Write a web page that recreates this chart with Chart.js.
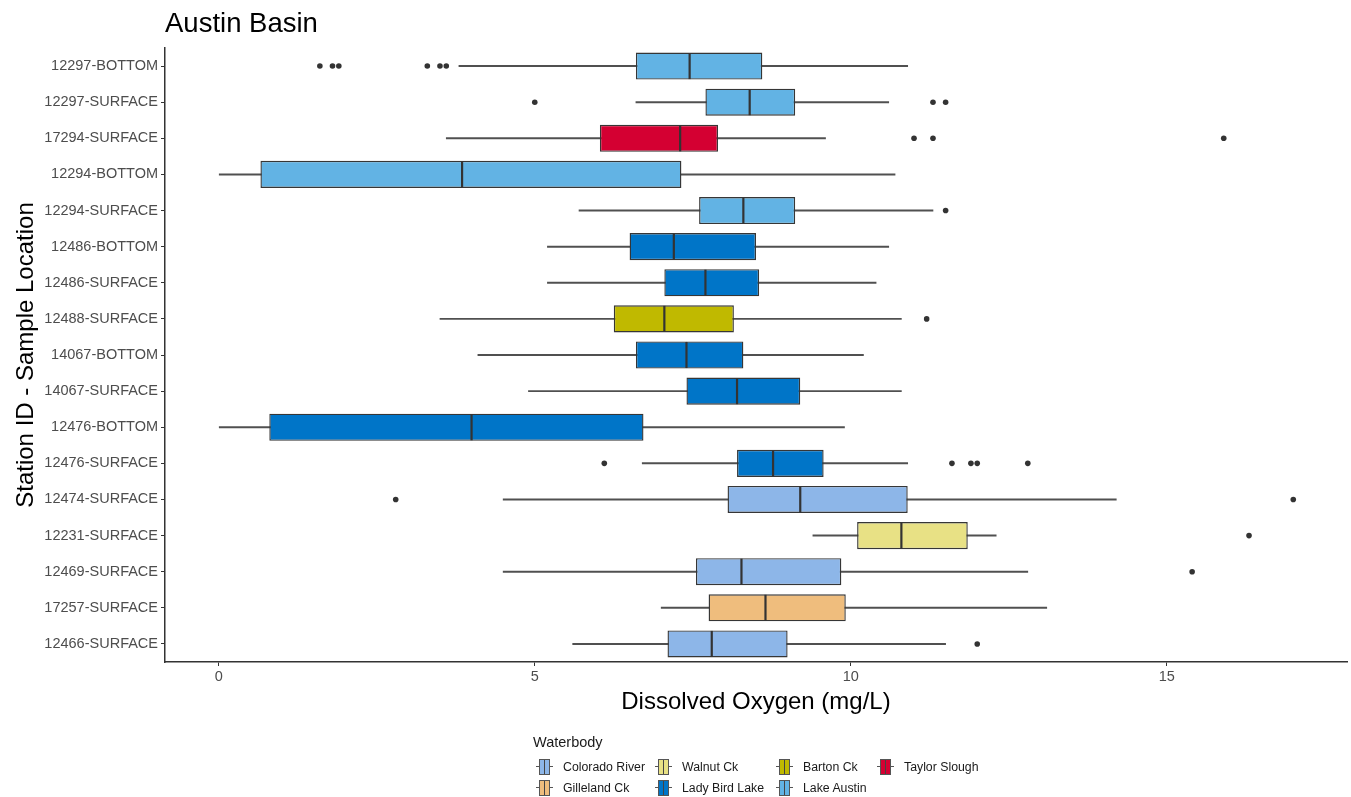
<!DOCTYPE html>
<html>
<head>
<meta charset="utf-8">
<script src="https://cdn.jsdelivr.net/npm/chart.js@4"></script>
<style>
  body { margin: 0; background: #fff; font-family: "Liberation Sans", Arial, sans-serif; }
  #wrap { position: relative; width: 1351px; height: 797px; }
  #legend { position: absolute; left: 533px; top: 733px; color: #1a1a1a; }
  #legend .ttl { font-size: 14.5px; line-height: 18px; margin-bottom: 5px; }
  #legend .grid { display: grid; grid-template-columns: 119px 121px 101px auto; grid-template-rows: 21px 21px; grid-auto-flow: column; }
  #legend .item { display: flex; align-items: center; font-size: 12.3px; }
  .key { position: relative; width: 17px; height: 16px; margin-left: 3px; margin-right: 10px; }
  .key .wh { position: absolute; left: 0; right: 0; top: 7.5px; height: 1px; background: #555; }
  .key .bx { position: absolute; left: 3px; top: 0; width: 9px; height: 14px; border: 1px solid #555; }
  .key .md { position: absolute; left: 4px; top: 0; width: 1px; height: 14px; background: #444; }
</style>
</head>
<body>
<div id="wrap">
  <canvas id="box-chart"></canvas>
  <div id="legend"></div>
</div>
<script>
let stations = ['12297-BOTTOM', '12297-SURFACE', '17294-SURFACE', '12294-BOTTOM', '12294-SURFACE',
  '12486-BOTTOM', '12486-SURFACE', '12488-SURFACE', '14067-BOTTOM', '14067-SURFACE', '12476-BOTTOM',
  '12476-SURFACE', '12474-SURFACE', '12231-SURFACE', '12469-SURFACE', '17257-SURFACE', '12466-SURFACE'];

let waterbody = ['Lake Austin', 'Lake Austin', 'Taylor Slough', 'Lake Austin', 'Lake Austin',
  'Lady Bird Lake', 'Lady Bird Lake', 'Barton Ck', 'Lady Bird Lake', 'Lady Bird Lake', 'Lady Bird Lake',
  'Lady Bird Lake', 'Colorado River', 'Walnut Ck', 'Colorado River', 'Gilleland Ck', 'Colorado River'];

let lowWhisker = [3.8, 6.6, 3.6, 0.0, 5.7, 5.2, 5.2, 3.5, 4.1, 4.9, 0.0, 6.7, 4.5, 9.4, 4.5, 7.0, 5.6];
let q1 = [6.6, 7.7, 6.03, 0.66, 7.6, 6.5, 7.05, 6.25, 6.6, 7.4, 0.8, 8.2, 8.05, 10.1, 7.55, 7.75, 7.1];
let median = [7.45, 8.4, 7.3, 3.85, 8.3, 7.2, 7.7, 7.05, 7.4, 8.2, 4.0, 8.77, 9.2, 10.8, 8.27, 8.65, 7.8];
let q3 = [8.6, 9.12, 7.9, 7.32, 9.12, 8.5, 8.55, 8.15, 8.3, 9.2, 6.72, 9.57, 10.9, 11.85, 9.85, 9.92, 9.0];
let highWhisker = [10.9, 10.6, 9.6, 10.7, 11.3, 10.6, 10.4, 10.8, 10.2, 10.8, 9.9, 10.9, 14.2, 12.3, 12.8, 13.1, 11.5];

let outliers = [
  [1.6, 1.8, 1.9, 3.3, 3.5, 3.6],
  [5.0, 11.3, 11.5],
  [11.0, 11.3, 15.9],
  [],
  [11.5],
  [], [], [11.2], [], [], [],
  [6.1, 11.6, 11.9, 12.0, 12.8],
  [2.8, 17.0],
  [16.3],
  [15.4],
  [],
  [12.0]
];

let xTicks = [0, 5, 10, 15];

let legendOrder = ['Colorado River', 'Gilleland Ck', 'Walnut Ck', 'Lady Bird Lake', 'Barton Ck', 'Lake Austin', 'Taylor Slough'];
let colors = {
  'Colorado River': '#8DB6E8',
  'Gilleland Ck': '#EFBD7D',
  'Walnut Ck': '#E8E185',
  'Lady Bird Lake': '#0075C8',
  'Barton Ck': '#C0B900',
  'Lake Austin': '#62B3E4',
  'Taylor Slough': '#D40032'
};

let font = '"Liberation Sans", Arial, sans-serif';

let outlierPoints = [];
outliers.forEach((vals, i) => {
  for (let v of vals) outlierPoints.push({x: v, y: stations[i]});
});

// median line on top of each box
const medianLines = {
  id: 'medianLines',
  afterDatasetsDraw(chart) {
    const meta = chart.getDatasetMeta(1);
    const xs = chart.scales.x;
    const ctx = chart.ctx;
    ctx.save();
    ctx.strokeStyle = '#333';
    ctx.lineWidth = 2.2;
    meta.data.forEach((bar, i) => {
      const p = bar.getProps(['y', 'height'], true);
      const px = xs.getPixelForValue(median[i]);
      ctx.beginPath();
      ctx.moveTo(px, p.y - p.height / 2 + 0.5);
      ctx.lineTo(px, p.y + p.height / 2 - 0.5);
      ctx.stroke();
    });
    ctx.restore();
  }
};

Chart.defaults.font.family = font;

new Chart(document.getElementById('box-chart'), {
  type: 'bar',
  data: {
    labels: stations,
    datasets: [{
        label: 'whisker',
        data: stations.map((s, i) => [lowWhisker[i], highWhisker[i]]),
        backgroundColor: '#505050',
        barThickness: 1.3,
        grouped: false,
        order: 3
      }, {
        label: 'box',
        data: stations.map((s, i) => [q1[i], q3[i]]),
        backgroundColor: waterbody.map(w => colors[w]),
        borderColor: '#363636',
        borderWidth: 1.4,
        borderSkipped: false,
        barPercentage: 0.75,
        categoryPercentage: 1,
        grouped: false,
        order: 2
      }, {
        type: 'scatter',
        label: 'outliers',
        data: outlierPoints,
        backgroundColor: '#333',
        borderWidth: 0,
        pointRadius: 2.8,
        showLine: false,
        order: 1
      }
    ]
  },
  plugins: [medianLines],
  options: {
    indexAxis: 'y',
    responsive: true,
    maintainAspectRatio: false,
    animation: false,
    events: [],
    layout: { padding: { left: 0, right: 4, top: 0, bottom: 80 } },
    plugins: {
      legend: { display: false },
      tooltip: { enabled: false },
      title: {
        display: true,
        text: 'Austin Basin',
        align: 'start',
        fullSize: false,
        color: '#000',
        font: { size: 27.5, weight: 'normal' },
        padding: { top: 8, bottom: 7 }
      }
    },
    scales: {
      x: {
        type: 'linear',
        position: 'bottom',
        min: -0.85,
        max: 17.85,
        afterBuildTicks: s => { s.ticks = xTicks.map(v => ({value: v})); },
        afterFit: s => { s.height = 55; },
        ticks: { color: '#4d4d4d', font: { size: 14.5 }, padding: 2 },
        grid: { drawOnChartArea: false, drawTicks: true, tickLength: 4, color: '#333' },
        border: { display: true, color: '#333', width: 1.5 },
        title: { display: true, text: 'Dissolved Oxygen (mg/L)', color: '#000', font: { size: 24 }, padding: 0 }
      },
      y: {
        type: 'category',
        position: 'left',
        offset: true,
        afterFit: s => { s.width = 165; },
        ticks: { color: '#4d4d4d', font: { size: 14.5 }, padding: 3, autoSkip: false },
        grid: { offset: false, drawOnChartArea: false, drawTicks: true, tickLength: 4, color: '#333' },
        border: { display: true, color: '#333', width: 1.5 },
        title: { display: true, text: 'Station ID - Sample Location', color: '#000', font: { size: 24 }, padding: { top: 12, bottom: 0 } }
      }
    }
  }
});

// legend, ggplot style (filled column by column)
let legend = document.getElementById('legend');
let html = '<div class="ttl">Waterbody</div><div class="grid">';
for (let name of legendOrder) {
  html += '<div class="item"><div class="key"><div class="wh"></div>' +
    '<div class="bx" style="background:' + colors[name] + '"><div class="md"></div></div></div>' +
    '<span>' + name + '</span></div>';
}
html += '</div>';
legend.innerHTML = html;
</script>
</body>
</html>
